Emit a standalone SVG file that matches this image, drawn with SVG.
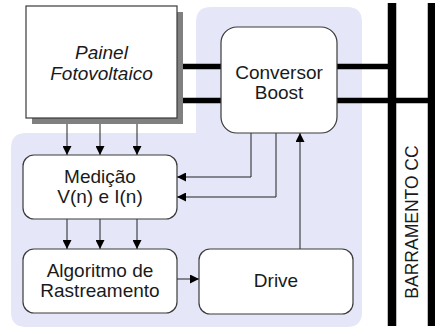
<svg xmlns="http://www.w3.org/2000/svg" width="435" height="331" viewBox="0 0 435 331">
<defs>
<style>
.box{fill:#fff;stroke:#3a3a3a;stroke-width:1.2}
.t{font-family:"Liberation Sans",Arial,sans-serif;font-size:19px;fill:#1a1a1a;text-anchor:middle}
.it{font-style:italic}
.c{fill:none;stroke:#222;stroke-width:1}
.bus{stroke:#000;stroke-width:5.5;fill:none}
.bar{stroke:#000;stroke-width:8.5;fill:none}
</style>
<marker id="ah" viewBox="0 0 10 10" refX="10" refY="5" markerWidth="9" markerHeight="9" markerUnits="userSpaceOnUse" orient="auto">
<path d="M0,0 L10,5 L0,10 Z" fill="#000"/>
</marker>
</defs>
<rect width="435" height="331" fill="#fff"/>
<path d="M211 7 H347 Q362 7 362 22 V312 Q362 327 347 327 H26 Q11 327 11 312 V148 Q11 133 26 133 H196 V22 Q196 7 211 7 Z" fill="#e6e6f9"/>
<g id="bus">
<line class="bar" x1="392" y1="3" x2="392" y2="326"/>
<line class="bar" x1="432" y1="3" x2="432" y2="326"/>
<text class="t" style="font-size:17.5px" transform="translate(418,222) rotate(-90)">BARRAMENTO CC</text>
</g>
<g id="connectors">
<line class="bus" x1="177" y1="66.5" x2="392" y2="66.5"/>
<line class="bus" x1="177" y1="100.5" x2="432" y2="100.5"/>
<line class="c" x1="67" y1="118" x2="67" y2="155" marker-end="url(#ah)"/>
<line class="c" x1="100" y1="118" x2="100" y2="155" marker-end="url(#ah)"/>
<line class="c" x1="137" y1="118" x2="137" y2="155" marker-end="url(#ah)"/>
<line class="c" x1="67" y1="219" x2="67" y2="249" marker-end="url(#ah)"/>
<line class="c" x1="100" y1="219" x2="100" y2="249" marker-end="url(#ah)"/>
<line class="c" x1="137" y1="219" x2="137" y2="249" marker-end="url(#ah)"/>
<polyline class="c" points="251,133 251,177 177,177" marker-end="url(#ah)"/>
<polyline class="c" points="276,133 276,197 177,197" marker-end="url(#ah)"/>
<line class="c" x1="300" y1="249" x2="300" y2="133" marker-end="url(#ah)"/>
<line class="c" x1="177" y1="279" x2="199" y2="279" marker-end="url(#ah)"/>
</g>
<g id="painel">
<rect x="32" y="12" width="151" height="112" fill="#808080"/>
<rect class="box" x="26" y="6" width="151" height="112"/>
<text class="t it" x="101.5" y="59">Painel</text>
<text class="t it" x="101.5" y="80">Fotovoltaico</text>
</g>
<g id="conversor">
<rect class="box" x="221" y="27" width="116" height="106" rx="16"/>
<text class="t" x="279" y="79">Conversor</text>
<text class="t" x="279" y="99">Boost</text>
</g>
<g id="medicao">
<rect class="box" x="23" y="155" width="154" height="64" rx="11"/>
<text class="t" x="100" y="183">Medição</text>
<text class="t" x="100" y="203">V(n) e I(n)</text>
</g>
<g id="algoritmo">
<rect class="box" x="23" y="249" width="154" height="64" rx="11"/>
<text class="t" x="100" y="277">Algoritmo de</text>
<text class="t" x="100" y="297">Rastreamento</text>
</g>
<g id="drive">
<rect class="box" x="199" y="249" width="154" height="65" rx="11"/>
<text class="t" x="276" y="287">Drive</text>
</g>
</svg>
